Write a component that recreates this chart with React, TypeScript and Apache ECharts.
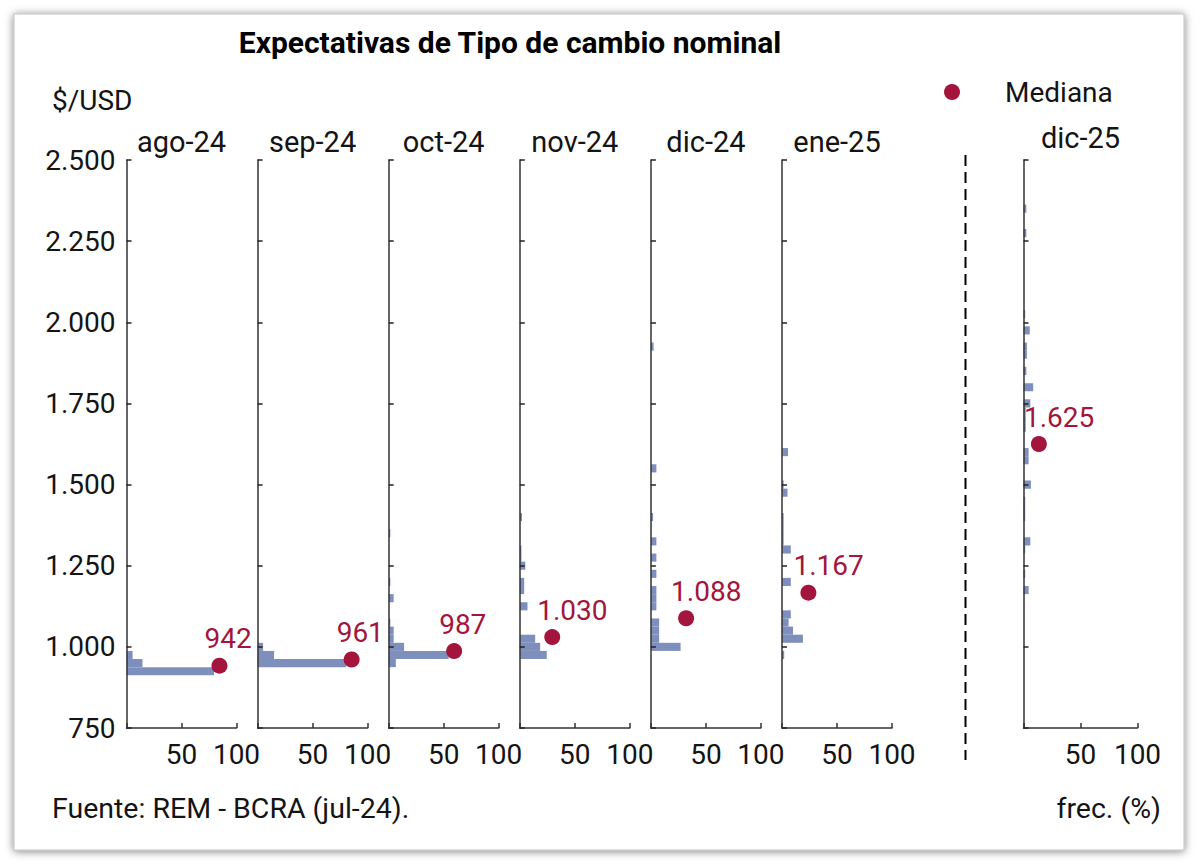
import React, { useEffect, useRef } from 'react';
import * as echarts from 'echarts';

// ---------- data ----------
const panels = ['ago-24', 'sep-24', 'oct-24', 'nov-24', 'dic-24', 'ene-25', 'dic-25'];
const medians = [942, 961, 987, 1030, 1088, 1167, 1625];

// bin centres ($/USD, 25-wide bins) and frequency (%)
const binsAgo24 = [975, 950, 925];
const freqAgo24 = [5.5, 14.5, 79.5];

const binsSep24 = [1000, 975, 950];
const freqSep24 = [5, 15, 80.5];

const binsOct24 = [1350, 1200, 1150, 1075, 1050, 1025, 1000, 975, 950];
const freqOct24 = [1.5, 1.5, 4.5, 1.5, 4.5, 4.5, 14, 54.5, 6.5];

const binsNov24 = [1400, 1300, 1275, 1250, 1200, 1175, 1125, 1025, 1000, 975];
const freqNov24 = [2, 1.5, 1.5, 5, 4, 4, 7, 14, 18.5, 24.5];

const binsDic24 = [1925, 1550, 1400, 1325, 1275, 1225, 1175, 1150, 1125, 1075, 1050, 1025, 1000];
const freqDic24 = [2.5, 5, 2, 5, 5, 5, 5, 5, 5, 7.5, 7.5, 7.5, 27];

const binsEne25 = [1600, 1500, 1475, 1400, 1375, 1350, 1325, 1300, 1200, 1100, 1075, 1050, 1025, 975];
const freqEne25 = [5.5, 1.5, 5, 1.5, 1.5, 1.5, 1.5, 8, 8, 8, 6, 10, 19, 2];

const binsDic25 = [2350, 2275, 2025, 1975, 1925, 1900, 1850, 1800, 1750, 1725, 1700, 1675, 1600, 1575, 1500, 1450, 1425, 1400, 1325, 1300, 1225, 1175];
const freqDic25 = [2.5, 2.5, 1.5, 5.5, 3, 3, 2.5, 8.5, 6, 2, 2, 2, 4.5, 4.5, 6.5, 1.5, 1.5, 1.5, 6, 1.5, 1.5, 4.5];

const allBins = [binsAgo24, binsSep24, binsOct24, binsNov24, binsDic24, binsEne25, binsDic25];
const allFreq = [freqAgo24, freqSep24, freqOct24, freqNov24, freqDic24, freqEne25, freqDic25];

const Y_MIN = 750;
const Y_MAX = 2500;
const Y_STEP = 250;
const BIN_W = 25;

// ---------- style ----------
const BAR = '#7f8fbd';
const DOT = '#a3153d';
const TXT = '#141414';
const FONT = 'Roboto';

const fmt = (v: number) =>
  v >= 1000 ? Math.floor(v / 1000) + '.' + String(Math.round(v % 1000)).padStart(3, '0') : String(v);

function buildOption() {
  const grids: any[] = [];
  const xAxes: any[] = [];
  const yAxes: any[] = [];
  const series: any[] = [];
  const titles: any[] = [];

  panels.forEach((name, i) => {
    const last = i === panels.length - 1;
    const left = last ? 1023.5 : 126.5 + i * 131.1;
    const width = last ? 114 : 110;
    grids.push({ left, top: 160, width, height: 568 });

    xAxes.push({
      type: 'value', gridIndex: i, min: 0, max: 100, interval: 50,
      axisLine: { show: true, lineStyle: { color: '#333', width: 1.5 } },
      axisTick: { show: true, inside: true, length: 5, lineStyle: { color: '#333', width: 1.5 } },
      splitLine: { show: false },
      axisLabel: {
        show: true, margin: 12, fontSize: 28, color: TXT, fontFamily: FONT,
        formatter: (v: number) => (v === 0 ? '' : String(v)),
      },
      z: 5,
    });
    yAxes.push({
      type: 'value', gridIndex: i, min: Y_MIN, max: Y_MAX, interval: Y_STEP,
      axisLine: { show: true, lineStyle: { color: '#333', width: 1.5 } },
      axisTick: { show: true, inside: true, length: 5, lineStyle: { color: '#222', width: 1.5 } },
      splitLine: { show: false },
      axisLabel: {
        show: i === 0, margin: 11, fontSize: 28, color: TXT, fontFamily: FONT,
        formatter: (v: number) => fmt(v),
      },
      z: 5,
    });

    const bins = allBins[i];
    const freq = allFreq[i];
    series.push({
      type: 'custom', xAxisIndex: i, yAxisIndex: i,
      encode: { x: 0, y: 1 },
      data: bins.map((b, j) => [freq[j], b]),
      renderItem: (params: any, api: any) => {
        const f = api.value(0) as number;
        const v = api.value(1) as number;
        const a = api.coord([0, v + BIN_W / 2]);
        const b = api.coord([f, v - BIN_W / 2]);
        return {
          type: 'rect',
          shape: { x: a[0], y: a[1], width: b[0] - a[0], height: b[1] - a[1] },
          style: { fill: BAR },
        };
      },
      z: 2,
    });

    const dotX = Math.max(...freq) + 5;
    series.push({
      type: 'scatter', name: 'Mediana', xAxisIndex: i, yAxisIndex: i,
      symbol: 'circle', symbolSize: 16,
      itemStyle: { color: DOT, opacity: 1 },
      data: [[dotX, medians[i]]],
      label: {
        show: true, position: [-7, -19], align: 'left', verticalAlign: 'middle',
        fontSize: 28, color: DOT, fontFamily: FONT,
        formatter: () => fmt(medians[i]),
      },
      z: 10,
    });

    titles.push({
      text: name, left: left + width / 2, top: last ? 138 : 142, padding: 0,
      textAlign: 'center', textVerticalAlign: 'middle',
      textStyle: { fontSize: 29, fontWeight: 'normal', color: TXT, fontFamily: FONT },
    });
  });

  titles.unshift(
    {
      text: 'Expectativas de Tipo de cambio nominal', left: 510, top: 42, padding: 0,
      textAlign: 'center', textVerticalAlign: 'middle',
      textStyle: { fontSize: 30, fontWeight: 'bold', color: '#000', fontFamily: FONT },
    },
    {
      text: '$/USD', left: 52, top: 100, padding: 0, textAlign: 'left', textVerticalAlign: 'middle',
      textStyle: { fontSize: 28, fontWeight: 'normal', color: TXT, fontFamily: FONT },
    },
    {
      text: 'Fuente: REM - BCRA (jul-24).', left: 52, top: 808, padding: 0, textAlign: 'left', textVerticalAlign: 'middle',
      textStyle: { fontSize: 28.5, fontWeight: 'normal', color: TXT, fontFamily: FONT },
    },
    {
      text: 'frec. (%)', left: 1161, top: 808, padding: 0, textAlign: 'right', textVerticalAlign: 'middle',
      textStyle: { fontSize: 28.5, fontWeight: 'normal', color: TXT, fontFamily: FONT },
    }
  );

  return {
    animation: false,
    backgroundColor: '#ffffff',
    title: titles,
    legend: {
      data: ['Mediana'], left: 944, top: 78, padding: 0,
      icon: 'circle', itemWidth: 16, itemHeight: 16,
      textStyle: { fontSize: 28, color: TXT, fontFamily: FONT, padding: [0, 0, 0, 40] },
      selectedMode: false,
    },
    grid: grids,
    xAxis: xAxes,
    yAxis: yAxes,
    series,
    graphic: [
      {
        type: 'rect', z: -10, silent: true,
        shape: { x: 14, y: 14, width: 1170, height: 836 },
        style: { fill: '#fff', stroke: '#c0c0c0', lineWidth: 1, shadowBlur: 9, shadowColor: 'rgba(0,0,0,0.5)', shadowOffsetY: 1 },
      },
      {
        type: 'line', z: 5, silent: true,
        shape: { x1: 965.5, y1: 155, x2: 965.5, y2: 760 },
        style: { stroke: '#000', lineWidth: 2, lineDash: [11, 6] },
      },
    ],
  };
}

export default function App() {
  const ref = useRef<HTMLDivElement>(null);
  useEffect(() => {
    if (!ref.current) return;
    const chart = echarts.init(ref.current, undefined, { renderer: 'svg' });
    chart.setOption(buildOption() as any);
    return () => chart.dispose();
  }, []);
  return (
    <div
      ref={ref}
      style={{ position: 'fixed', left: 0, top: 0, width: 1200, height: 865, background: '#fff' }}
    />
  );
}
